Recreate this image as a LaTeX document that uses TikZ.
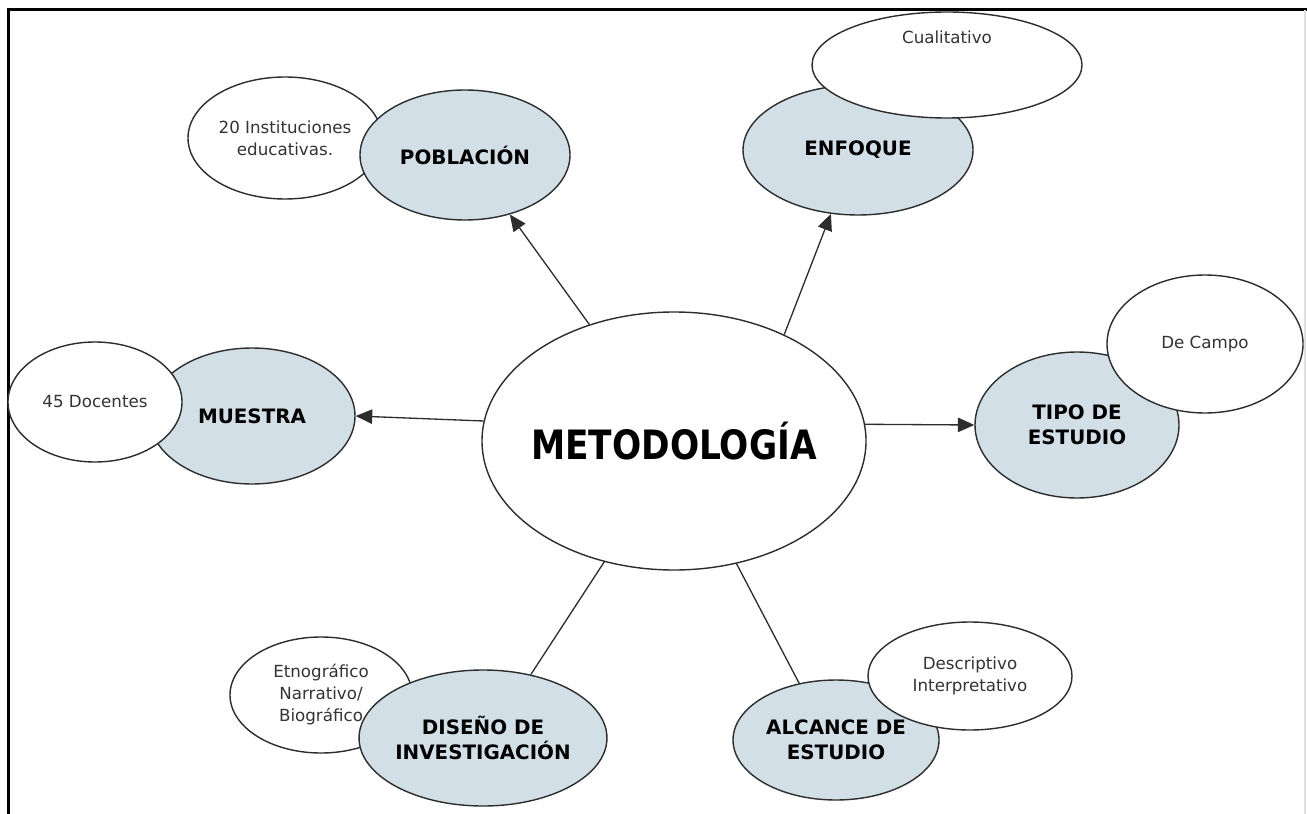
\documentclass[tikz,border=0pt]{standalone}
\usepackage{fontspec}
\setmainfont{DejaVu Sans}
\usetikzlibrary{shapes.geometric,arrows.meta}
\definecolor{azulgris}{RGB}{210,223,230}
\definecolor{trazo}{RGB}{45,45,45}

\begin{document}
\begin{tikzpicture}[x=0.2mm,y=-0.2mm,
    forma/.style={ellipse,draw=trazo,line width=0.8pt,inner sep=0pt,align=center},
    tema/.style={forma,fill=azulgris,font=\fontsize{11.3}{14.2}\selectfont\bfseries},
    detalle/.style={forma,fill=white,text=black!80,font=\fontsize{9.5}{12.5}\selectfont},
    flecha/.style={-{Triangle[length=3.3mm,width=2.9mm]},line width=0.75pt,draw=trazo},
    enlace/.style={line width=0.75pt,draw=trazo}]
  \useasboundingbox (0,0) rectangle (1307,814);

  % marco
  \draw[line width=0.6mm] (8,814) -- (8,10) -- (1307,10);
  \draw[black!12,line width=0.3mm] (1305,10) -- (1305,814);

  % centro
  \node[forma,fill=white,minimum width=76.8mm,minimum height=51.6mm,
        font=\fontsize{23}{26}\selectfont\bfseries] (met) at (674,441) {\makebox[0pt]{\scalebox{0.85}[1]{METODOLOGÍA}}};

  % poblacion
  \node[detalle,minimum width=38.8mm,minimum height=24.4mm] (pobd) at (285,138) {20 Instituciones\\educativas.};
  \node[tema,minimum width=42mm,minimum height=26mm] (pob) at (465,155) {POBLACIÓN};

  % enfoque
  \node[tema,minimum width=46mm,minimum height=26mm] (enf) at (858,150) {ENFOQUE};
  \node[detalle,minimum width=54mm,minimum height=21.2mm,text height=2mm,text depth=10.4mm] (enfd) at (947,65) {Cualitativo};

  % tipo de estudio
  \node[tema,minimum width=40.8mm,minimum height=29.2mm] (tipo) at (1077,425) {TIPO DE\\ESTUDIO};
  \node[detalle,minimum width=39.2mm,minimum height=27.6mm] (tipod) at (1205,344) {De Campo};

  % muestra
  \node[tema,minimum width=41.2mm,minimum height=27.2mm] (mue) at (252,416) {MUESTRA};
  \node[detalle,minimum width=34.8mm,minimum height=24mm] (mued) at (95,402) {45 Docentes};

  % diseno
  \node[detalle,minimum width=36.4mm,minimum height=23.2mm] (disd) at (321,695) {Etnográfico\\Narrativo/\\Biográfico};
  \node[tema,minimum width=42mm,minimum height=27.2mm] (dis) at (483,738) {DISEÑO DE\\INVESTIGACIÓN};

  % alcance
  \node[tema,minimum width=41.2mm,minimum height=24mm] (alc) at (836,740) {ALCANCE DE\\ESTUDIO};
  \node[detalle,minimum width=40.8mm,minimum height=21.6mm] (alcd) at (970,676) {Descriptivo\\Interpretativo};

  \draw[flecha] (met.126) -- (pob.307);
  \draw[flecha] (met.44) -- (enf.247);
  \draw[flecha] (met.5) -- (tipo.180);
  \draw[flecha] (met.174) -- (mue.0);
  \draw[enlace] (met.240) -- (dis.53);
  \draw[enlace] (met.297) -- (alc.123);
\end{tikzpicture}
\end{document}
